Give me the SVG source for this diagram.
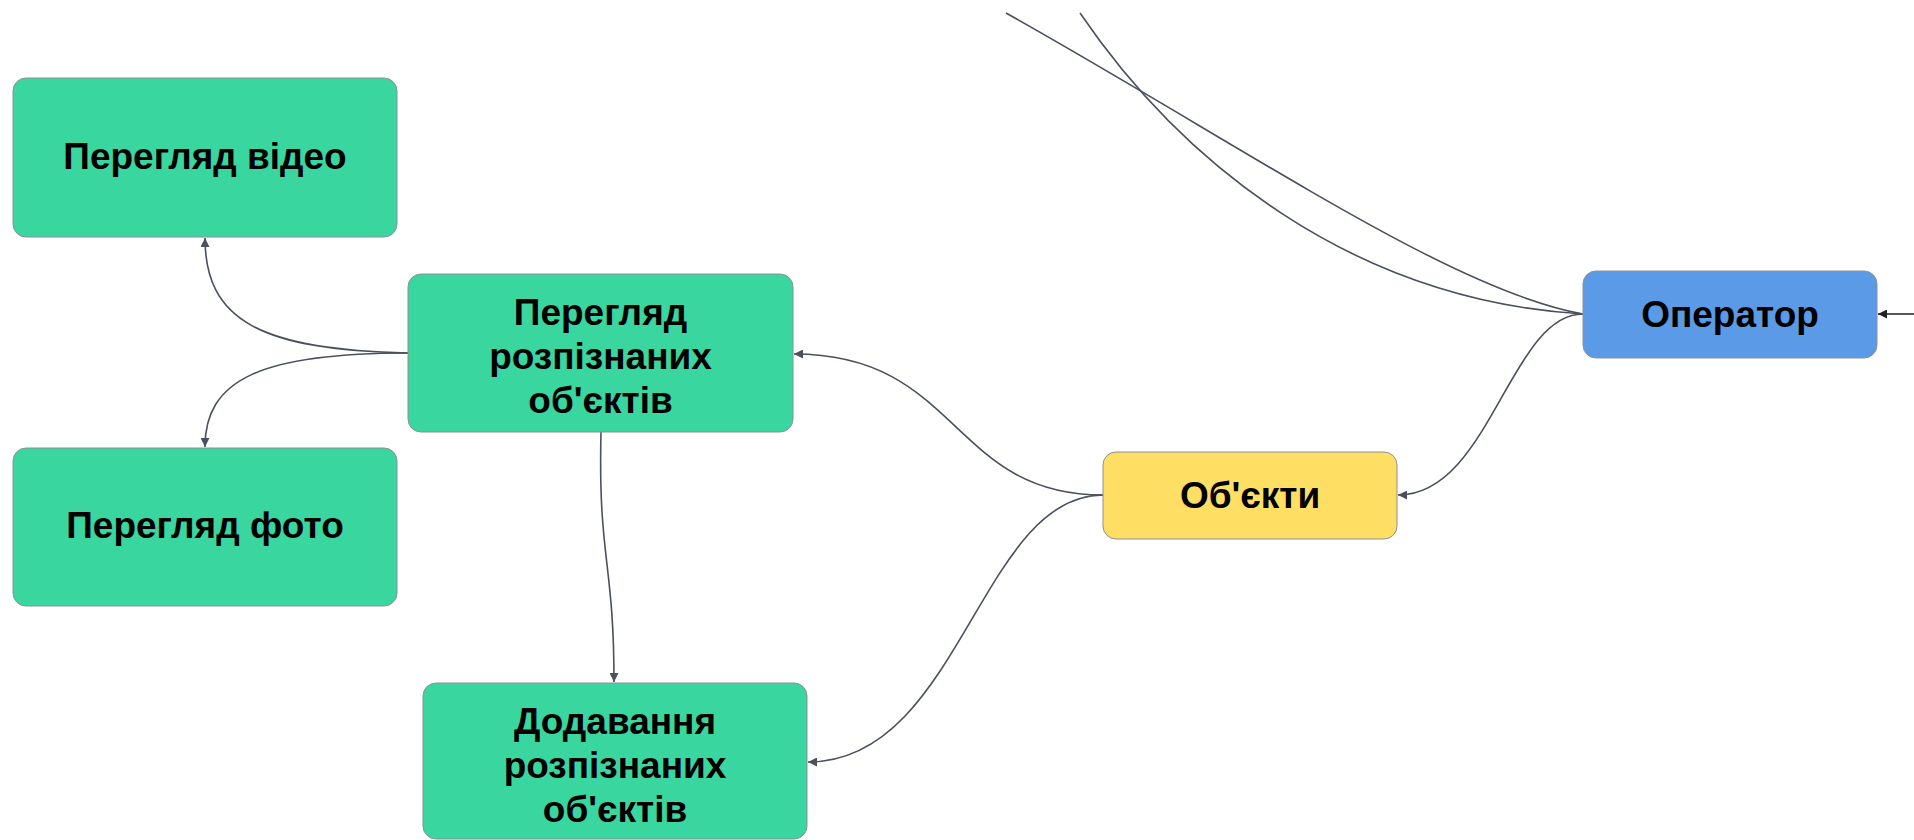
<svg xmlns="http://www.w3.org/2000/svg" width="1914" height="840" viewBox="0 0 1914 840">
  <defs>
    <style>
      .node { stroke: #8c9098; stroke-width: 1; }
      .green { fill: #3ad6a0; }
      .yellow { fill: #ffde64; }
      .blue { fill: #5a9ae6; }
      .label { font-family: "Liberation Sans", Arial, sans-serif; font-weight: bold; font-size: 37px; fill: #000; text-anchor: middle; }
      .edge { fill: none; stroke: #4a505c; stroke-width: 1.6; }
      .edge-dark { fill: none; stroke: #1f2126; stroke-width: 1.6; }
    </style>
    <marker id="arrow" viewBox="0 0 10 10" refX="10" refY="5" markerWidth="9" markerHeight="9" markerUnits="userSpaceOnUse" orient="auto">
      <path d="M0,0 L10,5 L0,10 z" fill="#4a505c"/>
    </marker>
    <marker id="arrow-dark" viewBox="0 0 10 10" refX="10" refY="5" markerWidth="9" markerHeight="9" markerUnits="userSpaceOnUse" orient="auto">
      <path d="M0,0 L10,5 L0,10 z" fill="#1f2126"/>
    </marker>
  </defs>
  <rect width="1914" height="840" fill="#ffffff"/>

  <g id="connectors">
    <!-- incoming lines from above into Оператор -->
    <path class="edge" d="M1006,13 C1250,150 1450,290 1583,314"/>
    <path class="edge" d="M1080,13 C1180,160 1350,300 1583,314"/>
    <!-- external input on the right of Оператор -->
    <path class="edge-dark" d="M1914,314 L1878,314" marker-end="url(#arrow-dark)"/>
    <!-- Оператор -> Об'єкти -->
    <path class="edge" d="M1583,314 C1510,314 1490,495 1398,495" marker-end="url(#arrow)"/>
    <!-- Об'єкти -> Перегляд розпізнаних об'єктів -->
    <path class="edge" d="M1103,495 C950,495 960,354 794,354" marker-end="url(#arrow)"/>
    <!-- Об'єкти -> Додавання розпізнаних об'єктів -->
    <path class="edge" d="M1103,495 C980,495 960,762 808,762" marker-end="url(#arrow)"/>
    <!-- Перегляд розпізнаних об'єктів -> Перегляд відео -->
    <path class="edge" d="M408,353 C260,350 205,320 205,238" marker-end="url(#arrow)"/>
    <!-- Перегляд розпізнаних об'єктів -> Перегляд фото -->
    <path class="edge" d="M408,353 C260,353 205,380 205,447" marker-end="url(#arrow)"/>
    <!-- Перегляд розпізнаних об'єктів -> Додавання розпізнаних об'єктів -->
    <path class="edge" d="M601,432 C598,560 614,560 614,682" marker-end="url(#arrow)"/>
  </g>

  <g id="node-video">
    <rect class="node green" x="13" y="78" width="384" height="159" rx="13"/>
    <text class="label" x="205" y="169">Перегляд відео</text>
  </g>

  <g id="node-photo">
    <rect class="node green" x="13" y="448" width="384" height="158" rx="13"/>
    <text class="label" x="205" y="538">Перегляд фото</text>
  </g>

  <g id="node-view-recognized">
    <rect class="node green" x="408" y="274" width="385" height="158" rx="13"/>
    <text class="label" x="600.5" y="325">Перегляд</text>
    <text class="label" x="600.5" y="369">розпізнаних</text>
    <text class="label" x="600.5" y="413">об'єктів</text>
  </g>

  <g id="node-add-recognized">
    <rect class="node green" x="423" y="683" width="384" height="156" rx="13"/>
    <text class="label" x="615" y="734">Додавання</text>
    <text class="label" x="615" y="778">розпізнаних</text>
    <text class="label" x="615" y="822">об'єктів</text>
  </g>

  <g id="node-objects">
    <rect class="node yellow" x="1103" y="452" width="294" height="87" rx="13"/>
    <text class="label" x="1250" y="508">Об'єкти</text>
  </g>

  <g id="node-operator">
    <rect class="node blue" x="1583" y="271" width="294" height="87" rx="13"/>
    <text class="label" x="1730" y="327">Оператор</text>
  </g>
</svg>
